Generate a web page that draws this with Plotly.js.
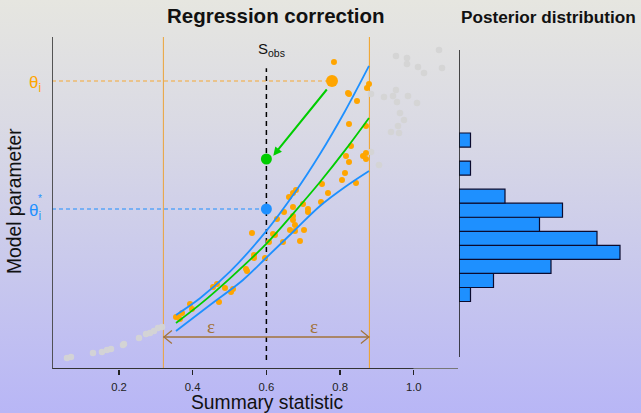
<!DOCTYPE html>
<html><head><meta charset="utf-8">
<script src="https://cdn.plot.ly/plotly-3.0.1.min.js"></script>
<style>
html,body{margin:0;padding:0;}
body{width:641px;height:413px;overflow:hidden;background:linear-gradient(180deg,#E6E6E0 0%,#DADAE4 30%,#CACAEC 62%,#B8B6F6 100%);}
#chart{width:641px;height:413px;}
</style></head><body><div id="chart"></div>
<script>
// ---------------- data ----------------
const sObs = 0.6;
const epsilon = 0.2795;
const tickVals = [0.2, 0.4, 0.6, 0.8, 1.0];
const tickText = ['0.2', '0.4', '0.6', '0.8', '1.0'];

// accepted simulations (inside the window) : summary statistic, parameter
const acceptedS = [0.7834,0.8215,0.8242,0.8459,0.8785,0.8730,0.8242,0.8703,0.8296,0.8160,0.8242,0.8622,0.8703,0.8703,0.8133,0.8052,0.8432,0.7672,0.7509,0.7482,0.6803,0.6722,0.6613,0.6478,0.6722,0.6993,0.7129,0.7129,0.6722,0.6722,0.6776,0.6640,0.6776,0.7021,0.6912,0.6288,0.6179,0.6233,0.5609,0.6070,0.6450,0.5663,0.5663,0.5962,0.5447,0.5474,0.4659,0.4551,0.4876,0.5094,0.5040,0.4714,0.3927,0.3981,0.3710,0.3601,0.3547,0.3655];
const acceptedTheta = [0.9247,0.8313,0.8283,0.8072,0.8584,0.8464,0.7380,0.7319,0.6717,0.6416,0.6235,0.6416,0.6506,0.6325,0.5904,0.5693,0.5602,0.5301,0.5572,0.5030,0.5392,0.5301,0.5181,0.4729,0.4880,0.4970,0.4819,0.4729,0.4608,0.4488,0.4337,0.4187,0.4157,0.4187,0.3855,0.4518,0.4066,0.4036,0.4096,0.3825,0.3825,0.3434,0.3343,0.3343,0.3012,0.2952,0.2560,0.2470,0.2440,0.2410,0.2319,0.2018,0.1958,0.1807,0.1687,0.1566,0.1566,0.1506];

// rejected simulations (outside the window)
const rejectedS = [0.9517,0.9815,0.9815,1.0114,1.0277,1.0684,1.0765,0.9517,0.9191,0.9436,0.9544,0.9842,1.0087,0.9625,0.9734,0.9571,0.9381,0.9598,0.8839,0.8839,0.9056,
                   0.0589,0.0697,0.1294,0.1538,0.1674,0.1783,0.2108,0.2135,0.2543,0.2733,0.2841,0.2950,0.3058,0.3167];
const rejectedTheta = [0.9428,0.9367,0.9187,0.9096,0.8916,0.9608,0.9066,0.8404,0.8193,0.8223,0.8042,0.8223,0.8012,0.7711,0.7500,0.7319,0.7139,0.7108,0.8283,0.6536,0.6145,
                   0.0331,0.0361,0.0482,0.0512,0.0572,0.0602,0.0723,0.0753,0.0934,0.1054,0.1084,0.1145,0.1235,0.1265];

// local regression fit and its band
const fitS     = [0.3547,0.4198,0.5012,0.5989,0.6749,0.7455,0.8133,0.8785];
const fitTheta = [0.1386,0.1946,0.2732,0.3762,0.4711,0.5633,0.6584,0.7560];
const upperTheta = [0.1630,0.2133,0.2931,0.4145,0.5277,0.6476,0.7765,0.9130];
const lowerS     = [0.3547,0.4470,0.5365,0.5989,0.6749,0.7455,0.8133,0.8785];
const lowerTheta = [0.1145,0.1928,0.2681,0.3343,0.4157,0.4910,0.5482,0.5964];

// highlighted simulation i and its corrected value
const simI = {s: 0.778, theta: 0.8675};
const projected = {s: 0.6, theta: 0.6325};
const corrected = {s: 0.6, theta: 0.4819};

// posterior histogram (bins of the corrected parameter)
const histTheta  = [0.2244,0.2667,0.3090,0.3513,0.3936,0.4359,0.4782,0.5205,0.5628,0.6051,0.6474,0.6897];
const histCounts = [1,3,8,14,12,7,9,4,0,1,0,1];
const binWidth = 0.0423;

// ---------------- drawing ----------------
const W = 641, H = 413;
const PX = v => v / W, PY = v => 1 - v / H;
const ORANGE = '#FFA500', BLUE = '#1E90FF', GREEN = '#00CD00', BROWN = '#A2733A';
const FONT = 'Liberation Sans, Arial, Helvetica, sans-serif';

const hb = histCounts.map((c, i) => ({c, t: histTheta[i]})).filter(d => d.c > 0);

const traces = [
  {x: rejectedS, y: rejectedTheta, mode: 'markers', type: 'scatter',
   marker: {size: 6.5, color: 'rgba(212,212,212,0.95)'}, hoverinfo: 'skip'},
  {x: acceptedS, y: acceptedTheta, mode: 'markers', type: 'scatter',
   marker: {size: 6, color: ORANGE}, hoverinfo: 'skip'},
  {x: fitS, y: upperTheta, mode: 'lines', type: 'scatter', line: {color: BLUE, width: 1.8, shape: 'spline'}},
  {x: lowerS, y: lowerTheta, mode: 'lines', type: 'scatter', line: {color: BLUE, width: 1.8, shape: 'spline'}},
  {x: fitS, y: fitTheta, mode: 'lines', type: 'scatter', line: {color: GREEN, width: 1.8, shape: 'spline'}},
  {x: [simI.s], y: [simI.theta], mode: 'markers', type: 'scatter', marker: {size: 12, color: ORANGE}},
  {x: [projected.s], y: [projected.theta], mode: 'markers', type: 'scatter', marker: {size: 11, color: GREEN}},
  {x: [corrected.s], y: [corrected.theta], mode: 'markers', type: 'scatter', marker: {size: 11, color: BLUE}},
  {x: hb.map(d => d.c), y: hb.map(d => d.t), type: 'bar', orientation: 'h', xaxis: 'x2', yaxis: 'y',
   width: binWidth, marker: {color: BLUE, line: {color: '#0B0B2E', width: 1.2}}, hoverinfo: 'skip'}
];

const xMin = 0.0182, xMax = 1.12;
const shapes = [
  // axes
  {type: 'line', xref: 'x', yref: 'y', x0: xMin, x1: 1.0, y0: 0, y1: 0, line: {color: '#333', width: 2}},
  {type: 'line', xref: 'x', yref: 'y', x0: 1.0, x1: xMax, y0: 0, y1: 0, line: {color: '#777', width: 2}},
  {type: 'line', xref: 'x', yref: 'y', x0: xMin, x1: xMin, y0: 0, y1: 1, line: {color: '#444', width: 1.8}},
  // window edges
  {type: 'line', layer: 'below', xref: 'x', yref: 'y', x0: sObs - epsilon, x1: sObs - epsilon, y0: 0, y1: 1, line: {color: '#EBA33A', width: 1}},
  {type: 'line', layer: 'below', xref: 'x', yref: 'y', x0: sObs + epsilon, x1: sObs + epsilon, y0: 0, y1: 1, line: {color: '#F2A020', width: 1}},
  // observed statistic
  {type: 'line', layer: 'below', xref: 'x', yref: 'y', x0: sObs, x1: sObs, y0: 0.027, y1: 0.906, line: {color: '#000', width: 1.5, dash: '5px,4px'}},
  // theta_i and theta_i* guides
  {type: 'line', layer: 'below', xref: 'x', yref: 'y', x0: xMin, x1: simI.s, y0: simI.theta, y1: simI.theta, line: {color: '#F5A835', width: 1.1, dash: '4px,3px'}},
  {type: 'line', layer: 'below', xref: 'x', yref: 'y', x0: xMin, x1: corrected.s, y0: corrected.theta, y1: corrected.theta, line: {color: BLUE, width: 1.1, dash: '4px,3px'}},
  // epsilon double arrow
  {type: 'line', xref: 'x', yref: 'y', x0: sObs - epsilon, x1: sObs + epsilon, y0: 0.0964, y1: 0.0964, line: {color: BROWN, width: 1.3}},
  {type: 'path', xref: 'x', yref: 'y', xsizemode: 'pixel', ysizemode: 'pixel', xanchor: sObs - epsilon, yanchor: 0.0964,
   path: 'M 8.5,6.5 L 0.5,0 L 8.5,-6.5', line: {color: BROWN, width: 1.2}},
  {type: 'path', xref: 'x', yref: 'y', xsizemode: 'pixel', ysizemode: 'pixel', xanchor: sObs + epsilon, yanchor: 0.0964,
   path: 'M -8.5,6.5 L -0.5,0 L -8.5,-6.5', line: {color: BROWN, width: 1.2}},
  // histogram axis
  {type: 'line', xref: 'x2', yref: 'y', x0: 0, x1: 0, y0: 0.036, y1: 0.961, line: {color: '#111', width: 1.5}}
];

const txt = (x, y, text, size, color, extra) => Object.assign({
  xref: 'paper', yref: 'paper', x: PX(x), y: PY(y), text: text, showarrow: false,
  xanchor: 'center', yanchor: 'middle', font: {size: size, family: FONT, color: color}
}, extra || {});

const annotations = [
  txt(276, 16, '<b>Regression correction</b>', 20.5, '#111'),
  txt(548, 17, '<b>Posterior distribution</b>', 17.2, '#111'),
  txt(14, 201, 'Model parameter', 19.3, '#111', {textangle: -90}),
  txt(267, 402, 'Summary statistic', 19.3, '#111'),
  txt(271, 49, 'S<sub>obs</sub>', 15, '#111'),
  txt(35, 84, 'θ<sub>i</sub>', 17, ORANGE),
  txt(35, 212, 'θ<sub>i</sub>', 17, BLUE),
  txt(40, 199, '*', 10, BLUE),
  {xref: 'x', yref: 'y', x: 0.4497, y: 0.1295, text: 'ε', showarrow: false, xanchor: 'center', yanchor: 'middle',
   font: {size: 19, family: 'Liberation Serif, DejaVu Serif, serif', color: BROWN}},
  {xref: 'x', yref: 'y', x: 0.7292, y: 0.1295, text: 'ε', showarrow: false, xanchor: 'center', yanchor: 'middle',
   font: {size: 19, family: 'Liberation Serif, DejaVu Serif, serif', color: BROWN}},
  // regression correction arrow
  {xref: 'x', yref: 'y', axref: 'x', ayref: 'y', x: 0.6187, y: 0.6425, ax: 0.7672, ay: 0.8464, text: '',
   showarrow: true, arrowhead: 2, arrowsize: 0.85, arrowwidth: 2, arrowcolor: GREEN, standoff: 0, startstandoff: 0}
];

const layout = {
  width: W, height: H, margin: {l: 0, r: 0, t: 0, b: 0},
  paper_bgcolor: 'rgba(0,0,0,0)', plot_bgcolor: 'rgba(0,0,0,0)',
  showlegend: false, font: {family: FONT, color: '#111'},
  xaxis: {domain: [PX(52), PX(458)], range: [xMin, xMax], showgrid: false, zeroline: false, showline: false,
          ticks: 'outside', ticklen: 5, tickwidth: 1.3, tickcolor: '#222', tickvals: tickVals, ticktext: tickText,
          tickfont: {size: 11.3, color: '#222', family: FONT}, ticklabelstandoff: 2, fixedrange: true},
  yaxis: {domain: [1 - 369 / H, 1 - 37 / H], range: [0, 1], showgrid: false, zeroline: false, showline: false,
          showticklabels: false, ticks: '', fixedrange: true},
  xaxis2: {domain: [PX(459), 1], range: [0, 182 / 11.5], anchor: 'y', visible: false, fixedrange: true},
  bargap: 0,
  shapes: shapes, annotations: annotations
};

Plotly.newPlot('chart', traces, layout, {displayModeBar: false, staticPlot: true});
</script></body></html>
